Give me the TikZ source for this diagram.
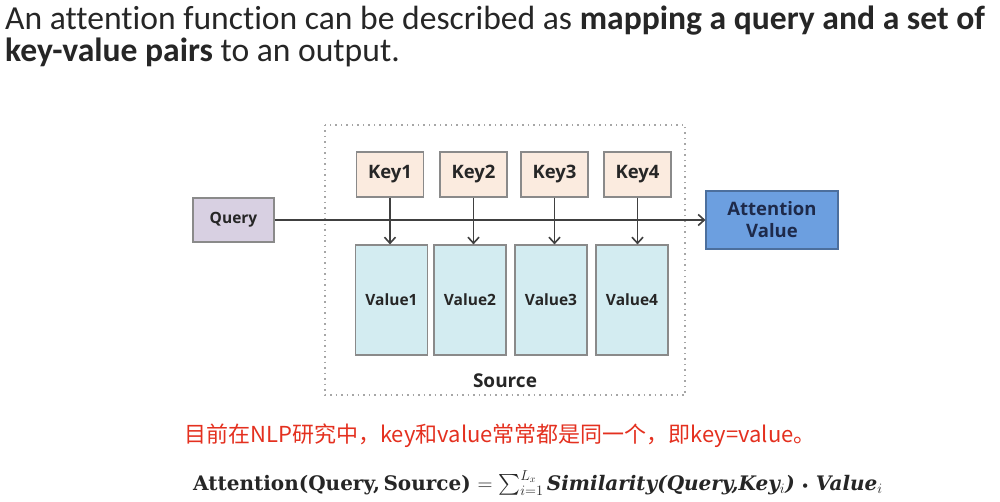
\documentclass[tikz,border=0pt]{standalone}
\usepackage{fontspec}
\usepackage{amsmath}
\usetikzlibrary{arrows.meta}
\setmainfont{DejaVu Serif}
\newfontfamily\titlefont[Ligatures=NoCommon]{Carlito}
\newfontfamily\diagfont{Open Sans}
\newfontfamily\cjk{Noto Sans CJK SC}
\definecolor{boxborder}{HTML}{8A8A8A}
\definecolor{queryfill}{HTML}{D8D0E2}
\definecolor{keyfill}{HTML}{FBEBDF}
\definecolor{valfill}{HTML}{D3ECF1}
\definecolor{attfill}{HTML}{6C9FE0}
\definecolor{atttext}{HTML}{1E2A4A}
\definecolor{boxtext}{HTML}{262626}
\definecolor{linecol}{HTML}{404040}
\definecolor{redtext}{HTML}{E4301F}
\tikzset{
  base/.style={draw=boxborder, line width=1.2pt, inner sep=0pt, text=boxtext,
    font=\diagfont\bfseries\fontsize{15.5}{18}\selectfont},
  querybox/.style={base, fill=queryfill, minimum width=81pt, minimum height=44pt},
  keybox/.style={base, fill=keyfill, minimum width=67pt, minimum height=45pt,
    font=\diagfont\bfseries\fontsize{18.5}{20}\selectfont},
  valbox/.style={base, fill=valfill, minimum width=72pt, minimum height=110pt},
  attbox/.style={base, draw=attfill!70!black, fill=attfill, text=atttext, minimum width=132pt, minimum height=58pt,
    align=center, font=\diagfont\bfseries\fontsize{18.5}{22}\selectfont},
  conn/.style={draw=linecol, line width=1.6pt, -{Straight Barb[length=6pt,width=11pt,line width=1.6pt]}},
}
\begin{document}
\begin{tikzpicture}[x=1pt,y=-1pt]
\useasboundingbox (0,0) rectangle (1000,502);
\fill[white] (0,0) rectangle (1000,502);
% title
\node[anchor=base west, inner sep=0pt, font=\titlefont\fontsize{33.6}{36}\selectfont, text=black!85] (t1) at (5,30)
  {An attention function can be described as \textbf{mapping a query and a set of}};
\node[anchor=base west, inner sep=0pt, font=\titlefont\fontsize{33.6}{36}\selectfont, text=black!85] (t2) at (5,62)
  {\textbf{key-value pairs} to an output.};
% source frame
\draw[draw=gray!70, line width=1.5pt, dash pattern=on 1.5pt off 4pt] (325,125) rectangle (685,395);
\node[font=\diagfont\bfseries\fontsize{19}{22}\selectfont, text=boxtext, inner sep=0pt] (src) at (505,381) {Source};
% nodes
\node[querybox] (q) at (233.5,220) {Query};
\node[keybox] (k1) at (390,174.5) {Key1};
\node[keybox] (k2) at (473.5,174.5) {Key2};
\node[keybox] (k3) at (554.5,174.5) {Key3};
\node[keybox] (k4) at (637.5,174.5) {Key4};
\node[valbox] (v1) at (391.5,300) {Value1};
\node[valbox] (v2) at (470,300) {Value2};
\node[valbox] (v3) at (551,300) {Value3};
\node[valbox] (v4) at (632,300) {Value4};
\node[attbox] (att) at (772,220) {Attention\\Value};
% connectors
\draw[conn] (q.east) -- (att.west);
\draw[conn] (k1.south) -- (k1.south |- v1.north);
\draw[conn] (k2.south) -- (k2.south |- v2.north);
\draw[conn] (k3.south) -- (k3.south |- v3.north);
\draw[conn] (k4.south) -- (k4.south |- v4.north);
% red note
\node[font=\cjk\fontsize{22}{26}\selectfont, text=redtext, inner sep=0pt] (note) at (500,436)
  {目前在NLP研究中，key和value常常都是同一个，即key=value。};
% formula
\node[font=\fontsize{20}{22}\selectfont\bfseries, text=black!85, inner sep=0pt, anchor=base west] (f) at (193,490)
  {Attention(Query,\,Source) $=\sum\nolimits_{i=1}^{L_x}$\,{\itshape Similarity(Query,Key$_i$) {\fontsize{14}{14}\selectfont\upshape ∙} Value$_i$}};
\end{tikzpicture}
\end{document}
